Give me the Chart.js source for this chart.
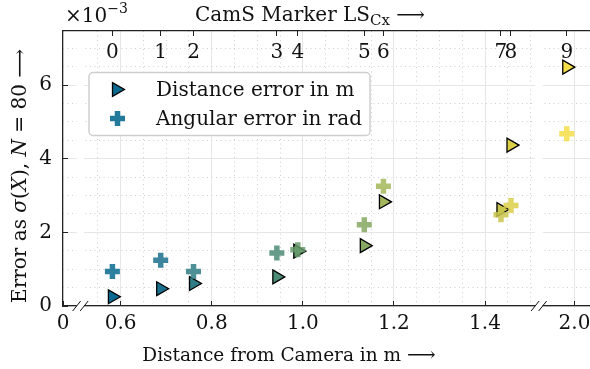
<!DOCTYPE html>
<html>
<head>
  <title>Marker error over distance</title>
  <script src="https://cdn.jsdelivr.net/npm/chart.js"></script>
  <style>
    body { margin: 0; background: #fff; }
  </style>
</head>
<body>
<canvas id="errChart" width="590" height="369"></canvas>
<script>
  // marker ids shown on the top axis
  const markerLabels = ["0", "1", "2", "3", "4", "5", "6", "7", "8", "9"];
  // distance of each marker from the camera (m)
  const distances = [0.582, 0.688, 0.760, 0.943, 0.989, 1.135, 1.177, 1.435, 1.457, 1.983];
  // standard deviation over 80 samples, in units of 1e-3
  const distErr = [0.25, 0.47, 0.61, 0.79, 1.49, 1.64, 2.83, 2.62, 4.37, 6.49];
  const angErr = [0.94, 1.24, 0.94, 1.44, 1.53, 2.21, 3.25, 2.48, 2.73, 4.68];
  const xTicks = [0, 0.6, 0.8, 1.0, 1.2, 1.4, 2.0];
  const xMinorTicks = [0.55, 0.65, 0.7, 0.75, 0.85, 0.9, 0.95, 1.05, 1.1, 1.15, 1.25, 1.3, 1.35, 1.45, 1.5];
  const yTicks = [0, 2, 4, 6];
  const markerColors = ["#0b6a8f", "#1b708d", "#2f7c84", "#4c8b76", "#66996b",
                        "#86a862", "#a4b75a", "#c9c54c", "#dccf48", "#f5de48"];

  // x axis is cut into three pieces
  const X_SEGMENTS = [[0, 0.03], [0.52, 1.51], [1.93, 2.034]];
  const X_GAP = 7.5;
  const Y_MAX = 7.47;
  const FONT = '"DejaVu Serif"';
  const FS = 20;

  class BrokenScale extends Chart.LinearScale {
    determineDataLimits() {
      this.min = X_SEGMENTS[0][0];
      this.max = X_SEGMENTS[X_SEGMENTS.length - 1][1];
    }
    _unit() {
      const span = X_SEGMENTS.reduce((s, g) => s + g[1] - g[0], 0);
      return (this.width - X_GAP * (X_SEGMENTS.length - 1)) / span;
    }
    getPixelForValue(value) {
      const k = this._unit();
      let px = this.left;
      for (let i = 0; i < X_SEGMENTS.length; i++) {
        const [a, b] = X_SEGMENTS[i];
        if (value <= b || i === X_SEGMENTS.length - 1) {
          return px + (Math.max(value, a) - a) * k;
        }
        px += (b - a) * k + X_GAP;
      }
    }
    getValueForPixel(pixel) {
      const k = this._unit();
      let px = this.left;
      for (let i = 0; i < X_SEGMENTS.length; i++) {
        const [a, b] = X_SEGMENTS[i];
        const w = (b - a) * k;
        if (pixel <= px + w || i === X_SEGMENTS.length - 1) {
          return a + (pixel - px) / k;
        }
        px += w + X_GAP;
      }
    }
  }
  BrokenScale.id = 'broken';
  BrokenScale.defaults = Chart.LinearScale.defaults;
  Chart.register(BrokenScale);

  Chart.defaults.font.family = FONT;
  Chart.defaults.font.size = FS;
  Chart.defaults.color = '#111';

  function withAlpha(hex, a) {
    const n = parseInt(hex.slice(1), 16);
    return `rgba(${n >> 16}, ${(n >> 8) & 255}, ${n & 255}, ${a})`;
  }

  // horizontal axes fill the full width, no room kept for edge labels
  function fixHeight(h) {
    return s => { s.height = h; s.paddingLeft = 0; s.paddingRight = 0; };
  }

  // mixed roman / italic / sub / superscript text
  function fontFor(p) {
    return `${p.italic ? 'italic ' : ''}${p.size || FS}px ${FONT}`;
  }
  function drawParts(ctx, parts, x, y, align, size) {
    const fs = q => Object.assign({ size }, q);
    const widths = parts.map(p => { ctx.font = fontFor(fs(p)); return ctx.measureText(p.t).width; });
    const total = widths.reduce((a, b) => a + b, 0);
    let cx = align === 'center' ? x - total / 2 : x;
    parts.forEach((p, i) => {
      ctx.font = fontFor(fs(p));
      ctx.fillText(p.t, cx, y + (p.dy || 0));
      cx += widths[i];
    });
  }

  const triStyle = { pointStyle: 'triangle', rotation: 90, radius: 8, borderWidth: 1.3 };
  const plusStyle = { pointStyle: 'cross', rotation: 0, radius: 7.5, borderWidth: 5.5 };

  const decorations = {
    id: 'decorations',
    beforeDatasetsDraw(chart) {
      // blank out the cut regions of the x axis
      const ctx = chart.ctx, area = chart.chartArea, sx = chart.scales.x;
      ctx.save();
      ctx.fillStyle = '#fff';
      for (let i = 0; i < X_SEGMENTS.length - 1; i++) {
        const x1 = sx.getPixelForValue(X_SEGMENTS[i][1]);
        const x2 = sx.getPixelForValue(X_SEGMENTS[i + 1][0]);
        ctx.fillRect(x1, area.top + 1.5, x2 - x1, area.bottom - area.top + 1);
      }
      ctx.restore();
    },
    afterDraw(chart) {
      const ctx = chart.ctx, area = chart.chartArea, sx = chart.scales.x;
      ctx.save();

      // break marks
      ctx.strokeStyle = '#111';
      ctx.lineWidth = 1;
      for (let i = 0; i < X_SEGMENTS.length - 1; i++) {
        const xs = [sx.getPixelForValue(X_SEGMENTS[i][1]), sx.getPixelForValue(X_SEGMENTS[i + 1][0])];
        xs.forEach(x => {
          ctx.beginPath();
          ctx.moveTo(x - 4, area.bottom + 5);
          ctx.lineTo(x + 4, area.bottom - 5);
          ctx.stroke();
        });
      }

      // legend box
      const lx = 89, ly = 72.5, lw = 281, lh = 63;
      ctx.beginPath();
      ctx.roundRect(lx, ly, lw, lh, 4);
      ctx.fillStyle = 'rgba(255,255,255,0.95)';
      ctx.fill();
      ctx.strokeStyle = '#cfcfcf';
      ctx.lineWidth = 1.5;
      ctx.stroke();

      const ds = chart.data.datasets;
      ctx.fillStyle = markerColors[0];
      ctx.strokeStyle = '#000';
      ctx.lineWidth = triStyle.borderWidth;
      Chart.helpers.drawPoint(ctx, triStyle, 116.5, 89.5);
      ctx.strokeStyle = withAlpha(markerColors[0], 0.9);
      ctx.lineWidth = plusStyle.borderWidth;
      Chart.helpers.drawPoint(ctx, plusStyle, 117.5, 118.5);

      ctx.fillStyle = '#111';
      ctx.textBaseline = 'alphabetic';
      ctx.textAlign = 'left';
      ctx.font = `${FS}px ${FONT}`;
      ctx.fillText(ds[1].label, 156, 96);
      ctx.fillText(ds[0].label, 156, 124.5);

      // axis titles
      drawParts(ctx, [{ t: 'Distance from Camera in m ' }, { t: '⟶', size: 20 }], 289, 361, 'center', 18.5);
      drawParts(ctx, [{ t: 'CamS Marker LS' }, { t: 'Cx', size: 15, dy: 4 }, { t: ' ⟶' }], 310, 21, 'center', FS);
      drawParts(ctx, [{ t: '×10' }, { t: '−3', size: 14, dy: -9 }], 65, 22, 'left', FS);

      ctx.translate(26, 176);
      ctx.rotate(-Math.PI / 2);
      drawParts(ctx, [
        { t: 'Error as ' }, { t: 'σ', italic: true }, { t: '(' }, { t: 'X', italic: true },
        { t: '), ' }, { t: 'N', italic: true }, { t: ' = 80 ' }, { t: '⟶' }
      ], 0, 0, 'center', FS);
      ctx.restore();
    }
  };

  const ctx = document.getElementById('errChart').getContext('2d');
  const errChart = new Chart(ctx, {
    type: 'scatter',
    data: {
      datasets: [
        {
          label: 'Angular error in rad',
          data: distances.map((d, i) => ({ x: d, y: angErr[i] })),
          pointStyle: plusStyle.pointStyle,
          pointRadius: plusStyle.radius,
          pointBorderWidth: plusStyle.borderWidth,
          pointBorderColor: markerColors.map(c => withAlpha(c, 0.85)),
          pointBackgroundColor: markerColors.map(c => withAlpha(c, 0.85)),
          xAxisID: 'x', yAxisID: 'y'
        },
        {
          label: 'Distance error in m',
          data: distances.map((d, i) => ({ x: d, y: distErr[i] })),
          pointStyle: triStyle.pointStyle,
          pointRotation: triStyle.rotation,
          pointRadius: triStyle.radius,
          pointBorderWidth: triStyle.borderWidth,
          pointBorderColor: '#000',
          pointBackgroundColor: markerColors,
          xAxisID: 'x', yAxisID: 'y'
        }
      ]
    },
    options: {
      responsive: false,
      animation: false,
      devicePixelRatio: 1,
      events: [],
      layout: { padding: 0, autoPadding: false },
      plugins: { legend: { display: false }, tooltip: { enabled: false } },
      scales: {
        x: {
          type: 'broken',
          position: 'bottom',
          afterBuildTicks: s => { s.ticks = xTicks.map(v => ({ value: v })); },
          afterFit: fixHeight(63),
          ticks: {
            autoSkip: false, maxRotation: 0, padding: 11,
            callback: v => v === 0 ? '0' : v.toFixed(1)
          },
          grid: { color: '#e6e6e6', lineWidth: 1, tickColor: '#222', tickLength: -5 },
          border: { color: '#222', width: 1.2 }
        },
        xMinor: {
          type: 'broken',
          position: 'bottom',
          afterBuildTicks: s => { s.ticks = xMinorTicks.map(v => ({ value: v })); },
          afterFit: fixHeight(0),
          ticks: { display: false },
          grid: { color: '#d0d0d0', lineWidth: 1, drawTicks: false },
          border: { display: false, dash: [1, 3.5] }
        },
        xTop: {
          type: 'broken',
          position: 'top',
          afterBuildTicks: s => { s.ticks = distances.map(v => ({ value: v })); },
          afterFit: fixHeight(31),
          ticks: {
            autoSkip: false, maxRotation: 0, mirror: true, padding: 10,
            callback: (v, i) => markerLabels[i]
          },
          grid: { drawOnChartArea: false, tickColor: '#222', tickLength: -5 },
          border: { color: '#222', width: 1.2 }
        },
        y: {
          type: 'linear',
          position: 'left',
          min: 0, max: Y_MAX,
          afterBuildTicks: s => { s.ticks = yTicks.map(v => ({ value: v })); },
          afterFit: s => { s.width = 63; },
          ticks: { padding: 16, callback: v => String(v) },
          grid: { color: '#e6e6e6', lineWidth: 1, tickColor: '#222', tickLength: -5 },
          border: { color: '#222', width: 1.2 }
        },
        yMinor: {
          type: 'linear',
          position: 'left',
          min: 0, max: Y_MAX,
          afterBuildTicks: s => {
            const t = [];
            for (let v = 0.5; v < Y_MAX; v += 0.5) if (v % 2 !== 0) t.push({ value: v });
            s.ticks = t;
          },
          afterFit: s => { s.width = 0; },
          ticks: { display: false },
          grid: { color: '#d0d0d0', lineWidth: 1, drawTicks: false },
          border: { display: false, dash: [1, 3.5] }
        }
      }
    },
    plugins: [decorations]
  });
</script>
</body>
</html>
